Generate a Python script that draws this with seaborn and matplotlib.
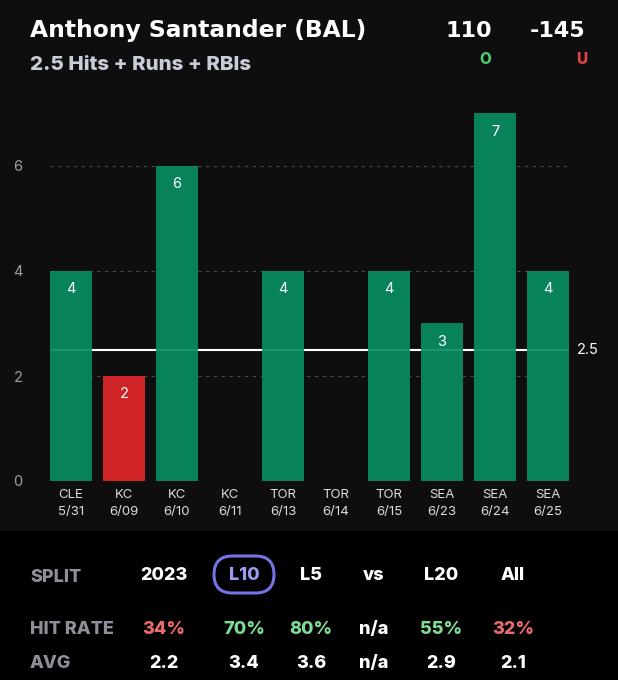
import matplotlib
matplotlib.use('Agg')
import pandas as pd
import seaborn as sns
import matplotlib.pyplot as plt
from matplotlib.patches import Rectangle, FancyBboxPatch

# datos del grafico
teams = ['CLE', 'KC', 'KC', 'KC', 'TOR', 'TOR', 'TOR', 'SEA', 'SEA', 'SEA']
dates = ['5/31', '6/09', '6/10', '6/11', '6/13', '6/14', '6/15', '6/23', '6/24', '6/25']
values = [4, 2, 6, 0, 4, 0, 4, 3, 7, 4]
line = 2.5

splits = ['2023', 'L10', 'L5', 'vs', 'L20', 'All']
hit_rate = ['34%', '70%', '80%', 'n/a', '55%', '32%']
avg = ['2.2', '3.4', '3.6', 'n/a', '2.9', '2.1']

GREEN = '#078c62'
RED = '#de2627'
W = 'heavy'

sns.set_style('dark')
plt.rcParams['font.family'] = ['Inter', 'DejaVu Sans']

df = pd.DataFrame({'game': [t + '\n' + d for t, d in zip(teams, dates)], 'hrr': values})
colors = [GREEN if v > line else RED for v in values]

fig = plt.figure(figsize=(6.18, 6.8), dpi=100)
fig.patch.set_facecolor('#000000')

# capa de fondo en pixeles (texto, tabla, paneles)
bg = fig.add_axes([0, 0, 1, 1], zorder=0)
bg.set_xlim(0, 618)
bg.set_ylim(680, 0)
bg.axis('off')
bg.add_patch(Rectangle((0, 0), 618, 531, facecolor='#0e0e0e', linewidth=0, zorder=0))

ax = fig.add_axes([44.5 / 618, 199 / 680, 530 / 618, 393.75 / 680], zorder=1)
ax.set_facecolor('none')

sns.barplot(data=df, x='game', y='hrr', hue='game', palette=colors, legend=False,
            width=0.8, ax=ax, alpha=0.93, zorder=3, saturation=1, linewidth=0)

for y in [0, 2, 4, 6]:
    ax.hlines(y, -0.4, 9.4, colors='#4a4a4a', linestyles=(0, (3, 4)), linewidth=0.8, zorder=1)
ax.hlines(line, -0.4, 9.4, colors='white', linewidth=1.5, zorder=2)
ax.text(9.55, line, '2.5', color='white', fontsize=10.5, va='center', ha='left')

for i, v in enumerate(values):
    if v > 0:
        ax.annotate(str(v), (i, v), xytext=(0, -13), textcoords='offset points',
                    ha='center', va='center', color='white', fontsize=10.5, zorder=4)

ax.set_xlim(-0.5, 9.5)
ax.set_ylim(0, 7.5)
ax.set_yticks([0, 2, 4, 6])
ax.set_xlabel('')
ax.set_ylabel('')
ax.grid(False)
for s in ax.spines.values():
    s.set_visible(False)
ax.tick_params(axis='y', colors='#a0a0a0', labelsize=10.5, length=0, pad=16)
ax.tick_params(axis='x', colors='#dddddd', labelsize=9.5, length=0, pad=6)
for lab in ax.get_xticklabels():
    lab.set_linespacing(1.5)

# cabecera
bg.text(30, 37, 'Anthony Santander (BAL)', color='white', fontsize=16.8,
        fontweight='bold', va='baseline', family='DejaVu Sans')
bg.text(30, 70, '2.5 Hits + Runs + RBIs', color='#c9cdd9', fontsize=14.8,
        fontweight=W, va='baseline')
bg.text(469, 37, '110', color='white', fontsize=16, fontweight='bold',
        va='baseline', ha='center', family='DejaVu Sans')
bg.text(558, 37, '-145', color='white', fontsize=16, fontweight='bold',
        va='baseline', ha='center', family='DejaVu Sans')
bg.text(485, 60, 'O', color='#4ccf6f', fontsize=11, fontweight=W,
        va='center', ha='center')
bg.text(582, 60, 'U', color='#e04545', fontsize=11, fontweight=W,
        va='center', ha='center')

# tabla de splits
col_x = [163.5, 244, 311, 374, 441, 513]
labels = ['SPLIT', 'HIT RATE', 'AVG']
rows_y = [578, 629.5, 664]
for lab, y in zip(labels, rows_y):
    bg.text(30, y, lab, color='#8e8f99', fontsize=13, fontweight=W,
            va='center', ha='left')

bg.add_patch(FancyBboxPatch((214, 556), 60, 37,
                            boxstyle='round,pad=0,rounding_size=18.5',
                            facecolor='none', edgecolor='#7474e4', linewidth=2.2))

for x, s in zip(col_x, splits):
    c = '#9c9cf2' if s == 'L10' else 'white'
    bg.text(x, 575, s, color=c, fontsize=13, fontweight=W, va='center', ha='center')

for x, h in zip(col_x, hit_rate):
    if h == 'n/a':
        c = 'white'
    elif int(h[:-1]) >= 50:
        c = '#7fdc93'
    else:
        c = '#ea6b6b'
    bg.text(x, 629.5, h, color=c, fontsize=13, fontweight=W, va='center', ha='center')

for x, a in zip(col_x, avg):
    bg.text(x, 664, a, color='white', fontsize=13, fontweight=W, va='center', ha='center')

fig.savefig('out.png', dpi=100, facecolor=fig.get_facecolor())
